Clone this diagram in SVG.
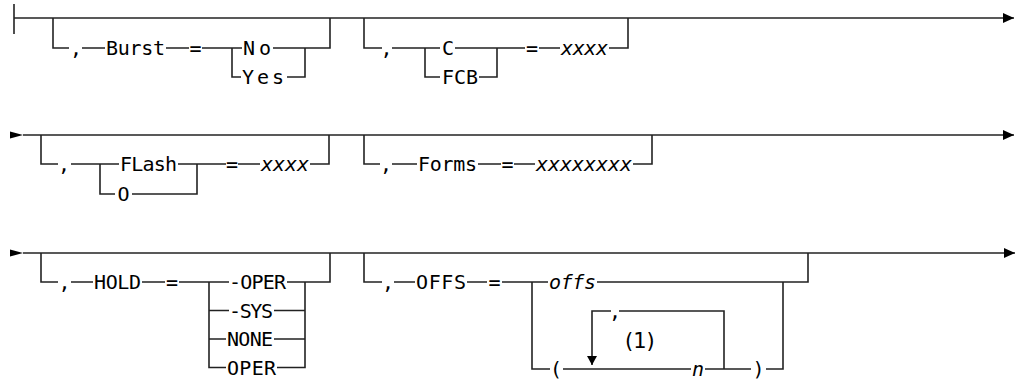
<svg xmlns="http://www.w3.org/2000/svg" width="1017" height="381" viewBox="0 0 1017 381">
<style>
.t{font-family:"DejaVu Sans Mono","Liberation Mono",monospace;font-size:20px;fill:#000}
.m{text-anchor:middle}
.v{font-style:italic}
.fn{font-family:"DejaVu Sans","Liberation Sans",sans-serif;font-size:21px;fill:#000}
.c{fill:none;stroke:#222;stroke-width:1.6}
.ar{fill:#000}
</style>
<defs>
<marker id="ah" viewBox="0 0 11 10" refX="11" refY="5" markerWidth="11" markerHeight="10" markerUnits="userSpaceOnUse" orient="auto"><path d="M0,0 L11,5 L0,10 z" fill="#000"/></marker>
<marker id="ahs" viewBox="0 0 9 10" refX="9" refY="5" markerWidth="9" markerHeight="10" markerUnits="userSpaceOnUse" orient="auto"><path d="M0,0 L9,5 L0,10 z" fill="#000"/></marker>
<path id="inarr" d="M0,-3.5 L13,0 L0,3.5 z"/>
</defs>
<g id="connectors">
<path class="c" d="M14,4 V34"/>
<path class="c" d="M14,18 H1014" marker-end="url(#ah)"/>
<path class="c" d="M53,18 V48 H69 M82,48 H105 M166,48 H189 M202,48 H242 M273,48 H330 V18"/>
<path class="c" d="M232,48 V77 H241 M287,77 H305 V48"/>
<path class="c" d="M364,18 V48 H382 M392,48 H440 M455,48 H525 M539,48 H560 M609,48 H628 V18"/>
<path class="c" d="M425,48 V77 H440 M479,77 H497 V48"/>
<use href="#inarr" class="ar" x="10" y="135"/>
<path class="c" d="M23,135 H1014" marker-end="url(#ah)"/>
<path class="c" d="M41,135 V164 H58 M71,164 H119 M178,164 H226 M238,164 H260 M310,164 H329 V135"/>
<path class="c" d="M100,164 V194 H115 M132,194 H197 V164"/>
<path class="c" d="M364,135 V164 H380 M392,164 H417 M478,164 H501 M514,164 H535 M633,164 H652 V135"/>
<use href="#inarr" class="ar" x="10" y="253"/>
<path class="c" d="M23,253 H1015" marker-end="url(#ah)"/>
<path class="c" d="M41,253 V282 H58 M71,282 H93 M142,282 H165 M179,282 H229 M287,282 H330 V253"/>
<path class="c" d="M209,282 V367.5 H226 M277,367.5 H305 V282 M209,310.5 H229 M274,310.5 H305 M209,339 H226 M274,339 H305"/>
<path class="c" d="M364,253 V282 H382 M394,282 H415 M467,282 H487 M502,282 H548 M597,282 H808 V253"/>
<path class="c" d="M532,282 V369 H550 M563,369 H691 M705,369 H751 M766,369 H783 V282"/>
<path class="c" d="M724,369 V311 H619 M611,311 H592 V365" marker-end="url(#ahs)"/>
</g>
<g id="n-burst-comma"><text class="t m" x="76" y="55">,</text></g>
<g id="n-burst"><text class="t" x="106" y="55" textLength="59">Burst</text></g>
<g id="n-burst-eq"><text class="t m" x="195.5" y="55">=</text></g>
<g id="n-no"><text class="t" x="243" y="55" textLength="28">No</text></g>
<g id="n-yes"><text class="t" x="242" y="84" textLength="42">Yes</text></g>
<g id="n-c-comma"><text class="t m" x="386.5" y="55">,</text></g>
<g id="n-c"><text class="t m" x="448" y="55">C</text></g>
<g id="n-fcb"><text class="t" x="442" y="84" textLength="36">FCB</text></g>
<g id="n-c-eq"><text class="t m" x="532" y="55">=</text></g>
<g id="n-c-val"><text class="t v" x="561" y="55" textLength="47">xxxx</text></g>
<g id="n-flash-comma"><text class="t m" x="64" y="171">,</text></g>
<g id="n-flash"><text class="t" x="120" y="171" textLength="57">FLash</text></g>
<g id="n-o"><text class="t m" x="123.5" y="201">O</text></g>
<g id="n-flash-eq"><text class="t m" x="232" y="171">=</text></g>
<g id="n-flash-val"><text class="t v" x="261" y="171" textLength="48">xxxx</text></g>
<g id="n-forms-comma"><text class="t m" x="386" y="171">,</text></g>
<g id="n-forms"><text class="t" x="418" y="171" textLength="59">Forms</text></g>
<g id="n-forms-eq"><text class="t m" x="507.5" y="171">=</text></g>
<g id="n-forms-val"><text class="t v" x="536" y="171" textLength="96">xxxxxxxx</text></g>
<g id="n-hold-comma"><text class="t m" x="64.5" y="289">,</text></g>
<g id="n-hold"><text class="t" x="94" y="289" textLength="47">HOLD</text></g>
<g id="n-hold-eq"><text class="t m" x="172" y="289">=</text></g>
<g id="n-moper"><text class="t" x="229" y="289" textLength="57">-OPER</text></g>
<g id="n-msys"><text class="t" x="229" y="317.5" textLength="44">-SYS</text></g>
<g id="n-none"><text class="t" x="227" y="346" textLength="46">NONE</text></g>
<g id="n-oper"><text class="t" x="227" y="374.5" textLength="49">OPER</text></g>
<g id="n-offs-comma"><text class="t m" x="388" y="289">,</text></g>
<g id="n-offs"><text class="t" x="416" y="289" textLength="50">OFFS</text></g>
<g id="n-offs-eq"><text class="t m" x="494.5" y="289">=</text></g>
<g id="n-offs-val"><text class="t v" x="549" y="289" textLength="47">offs</text></g>
<g id="n-lparen"><text class="t m" x="556" y="376">(</text></g>
<g id="n-n"><text class="t v m" x="698" y="376">n</text></g>
<g id="n-rparen"><text class="t m" x="758.5" y="376">)</text></g>
<g id="n-loop-comma"><text class="t m" x="615" y="318">,</text></g>
<g id="n-note"><text class="fn" x="625" y="348">(1)</text></g>
</svg>
